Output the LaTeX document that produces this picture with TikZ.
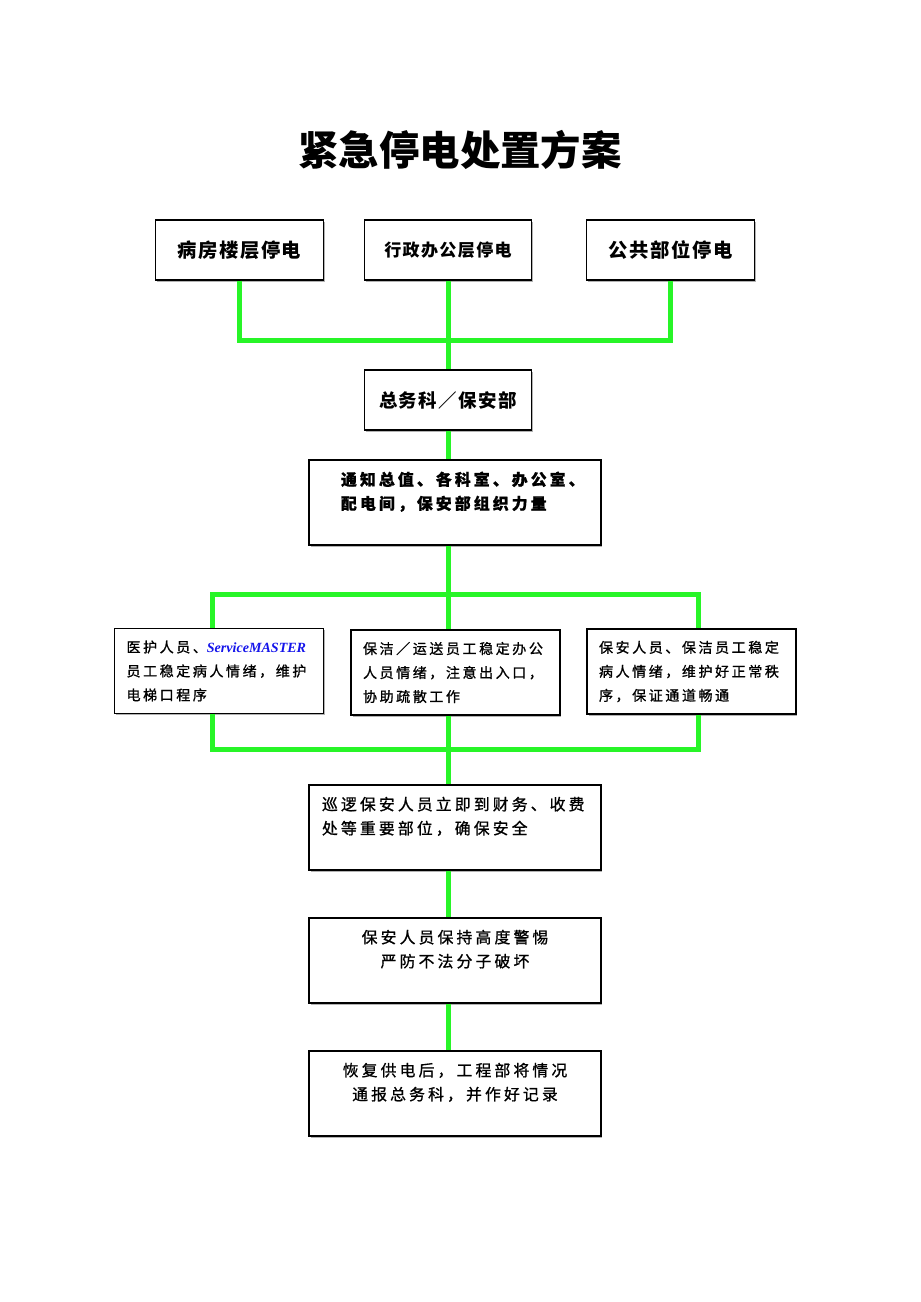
\documentclass[tikz,border=0pt]{standalone}
\usepackage{fontspec}
\usepackage{xcolor}
\usetikzlibrary{shadows}
\setmainfont{Noto Sans CJK SC}
\newfontfamily\titlecjk{Noto Sans CJK SC}
\newfontfamily\headcjk[LetterSpace=8]{Noto Sans CJK SC}
\newfontfamily\bodycjk[LetterSpace=20,FakeBold=1]{Noto Sans CJK SC}
\newfontfamily\staffcjk[LetterSpace=18,FakeBold=1]{Noto Sans CJK SC}
\newfontfamily\latinserif{Liberation Serif}
\definecolor{busgreen}{RGB}{40,245,40}
\definecolor{svcblue}{RGB}{20,20,235}
\newcommand\bodyfont{\fontsize{9pt}{13.66pt}\selectfont\bodycjk}
\newcommand\stafffont{\fontsize{8pt}{13.66pt}\selectfont\staffcjk}
\newcommand\svcname{{\fontsize{8pt}{13.66pt}\selectfont\latinserif\bfseries\itshape\color{svcblue}ServiceMASTER}}

\begin{document}
\begin{tikzpicture}[x=0.02cm, y=-0.02cm,
        box/.style={rectangle, draw=black, line width=0.8pt, fill=white, drop shadow={shadow xshift=0.03cm, shadow yshift=-0.03cm, fill=black!30, opacity=1}},
        head/.style={box, minimum width=3.35cm, minimum height=1.2cm, font=\bfseries\headcjk},
        note/.style={box, minimum height=1.7cm, align=left, font=\bodyfont},
        staff/.style={box, minimum height=1.7cm, inner xsep=0.24cm, text width=3.7cm, align=left, font=\stafffont},
        bus/.style={draw=busgreen, line width=0.1cm, line join=miter}
    ]

    % fixed page size
    \useasboundingbox (0,0) rectangle (920,1302);

    % title
    \node[font=\fontsize{23pt}{26pt}\selectfont\bfseries\titlecjk] (title) at (460,150) {紧急停电处置方案};

    % where the outage happens
    \node[head, font=\fontsize{11pt}{13pt}\selectfont\bfseries\headcjk] (ward) at (239.5,250) {病房楼层停电};
    \node[head, font=\fontsize{9.7pt}{13pt}\selectfont\bfseries\headcjk] (office) at (448,250) {行政办公层停电};
    \node[head, font=\fontsize{11pt}{13pt}\selectfont\bfseries\headcjk] (public) at (670.5,250) {公共部位停电};

    % handling department
    \node[head, font=\fontsize{10.5pt}{13pt}\selectfont\bfseries\headcjk] (dept) at (448,400) {总务科／保安部};
    \node[note, inner xsep=0.64cm, text width=4.56cm, font=\bodyfont\bfseries] (notify) at (455,502.5) {通知总值、各科室、办公室、\\配电间，保安部组织力量\\ \mbox{}};

    % staff on site
    \node[staff] (medic) at (219,671) {医护人员、\svcname\\员工稳定病人情绪，维护\\电梯口程序};
    \node[staff] (clean) at (455.5,672.5) {保洁／运送员工稳定办公\\人员情绪，注意出入口，\\协助疏散工作};
    \node[staff] (guard) at (691.5,671.5) {保安人员、保洁员工稳定\\病人情绪，维护好正常秩\\序，保证通道畅通};

    % follow-up steps
    \node[note, inner xsep=0.26cm, text width=5.32cm] (patrol) at (455,827.5) {巡逻保安人员立即到财务、收费\\处等重要部位，确保安全\\ \mbox{}};
    \node[note, minimum width=5.84cm, align=center] (alert) at (455,960.5) {保安人员保持高度警惕\\严防不法分子破坏\\ \mbox{}};
    \node[note, minimum width=5.84cm, align=center] (restore) at (455,1093.5) {恢复供电后，工程部将情况\\通报总务科，并作好记录\\ \mbox{}};

    % junction points of the green lines
    \coordinate (topbus) at (448,340);
    \coordinate (splitL) at (212,594);
    \coordinate (splitM) at (448,594);
    \coordinate (splitR) at (698,594);
    \coordinate (joinL) at (212,749);
    \coordinate (joinM) at (448,749);
    \coordinate (joinR) at (698,749);

    % green connectors
    \draw[bus] (ward.south) |- (topbus) -| (public.south);
    \draw[bus] (office.south) -- (dept.north);
    \draw[bus] (dept.south) -- (dept.south |- notify.north);
    \draw[bus] (splitM |- notify.south) -- (splitM);
    \draw[bus] (splitL |- medic.north) -- (splitL) -- (splitR) -- (splitR |- guard.north);
    \draw[bus] (splitM) -- (splitM |- clean.north);
    \draw[bus] (joinL |- medic.south) -- (joinL) -- (joinR) -- (joinR |- guard.south);
    \draw[bus] (joinM |- clean.south) -- (joinM |- patrol.north);
    \draw[bus] (joinM |- patrol.south) -- (joinM |- alert.north);
    \draw[bus] (joinM |- alert.south) -- (joinM |- restore.north);

\end{tikzpicture}
\end{document}
